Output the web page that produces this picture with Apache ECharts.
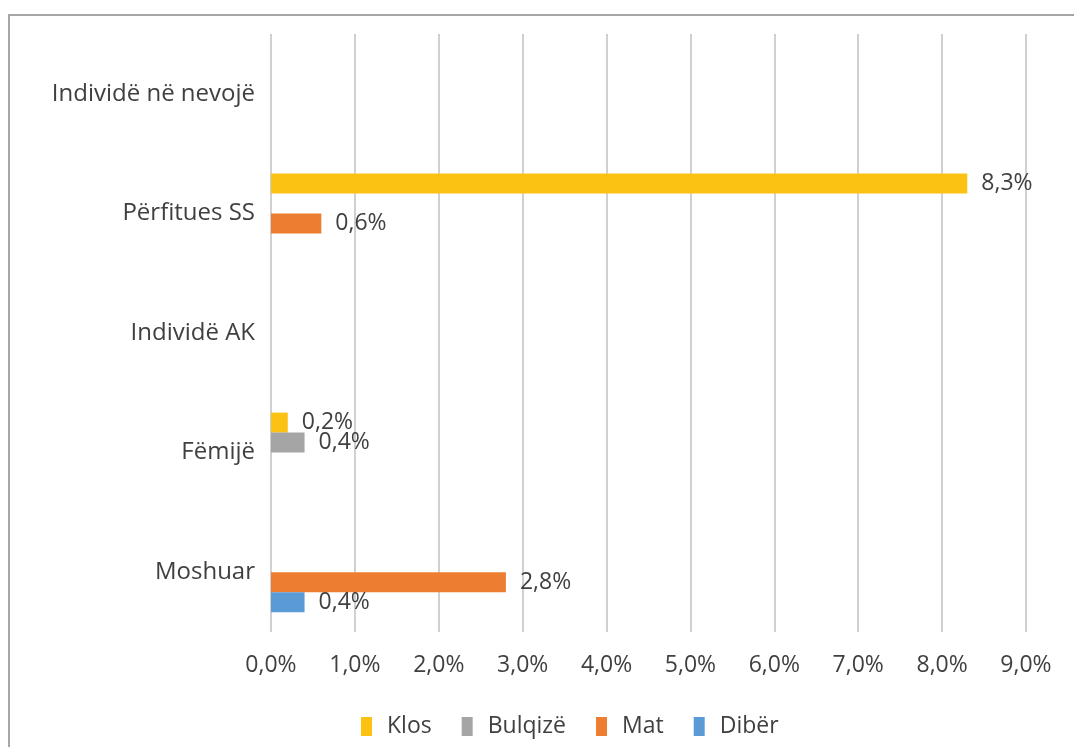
<!DOCTYPE html>
<html>
<head>
<meta charset="utf-8">
<script src="https://cdn.jsdelivr.net/npm/echarts@6/dist/echarts.min.js"></script>
<style>
  html, body { margin: 0; padding: 0; background: #fff; }
  #chart { width: 1074px; height: 747px; }
  #frame { position: absolute; left: 8px; top: 14px; width: 1100px; height: 800px;
           border-left: 2px solid #A6A6A6; border-top: 2px solid #A6A6A6; pointer-events: none; }
</style>
</head>
<body>
<div id="chart"></div>
<div id="frame"></div>
<script>
// kategoritë (nga poshtë lart)
var categories = ['Moshuar', 'Fëmijë', 'Individë AK', 'Përfitues SS', 'Individë në nevojë'];
// vlerat ne %
var klos    = [null, 0.2, null, 8.3, null];
var bulqize = [null, 0.4, null, null, null];
var mat     = [2.8, null, null, 0.6, null];
var diber   = [0.4, null, null, null, null];
var xTicks  = [0, 1, 2, 3, 4, 5, 6, 7, 8, 9];

var chart = echarts.init(document.getElementById('chart'));

function fmt(v) {
  return v.toFixed(1).replace('.', ',') + '%';
}

var font = 'Open Sans';
var labelStyle = {
  show: true,
  position: 'right',
  distance: 14,
  color: '#404040',
  fontSize: 23,
  fontFamily: font,
  formatter: function (p) { return fmt(p.value); }
};

function bar(name, data, color) {
  return {
    name: name,
    type: 'bar',
    data: data,
    barWidth: 20,
    barGap: '0%',
    itemStyle: { color: color },
    label: labelStyle
  };
}

var option = {
  animation: false,
  grid: { left: 271, right: 48, top: 34, bottom: 115 },
  legend: {
    data: ['Klos', 'Bulqizë', 'Mat', 'Dibër'],
    top: 710,
    left: 356,
    icon: 'rect',
    itemWidth: 11,
    itemHeight: 19,
    itemGap: 30,
    textStyle: { color: '#404040', fontSize: 23, fontFamily: font, padding: [0, 0, 0, 10] }
  },
  xAxis: {
    type: 'value',
    min: xTicks[0],
    max: xTicks[xTicks.length - 1],
    interval: 1,
    axisLine: { show: false },
    axisTick: { show: false },
    splitLine: { lineStyle: { color: '#D0D0D0', width: 2 } },
    axisLabel: {
      color: '#404040', fontSize: 23, fontFamily: font, margin: 22,
      formatter: function (v) { return fmt(v); }
    }
  },
  yAxis: {
    type: 'category',
    data: categories,
    axisLine: { show: false },
    axisTick: { show: false },
    axisLabel: { color: '#404040', fontSize: 24, fontFamily: font, margin: 16 }
  },
  series: [
    bar('Klos', klos, '#FBC113'),
    bar('Bulqizë', bulqize, '#A5A5A5'),
    bar('Mat', mat, '#ED7D31'),
    bar('Dibër', diber, '#5B9BD5')
  ]
};
chart.setOption(option);
</script>
</body>
</html>
